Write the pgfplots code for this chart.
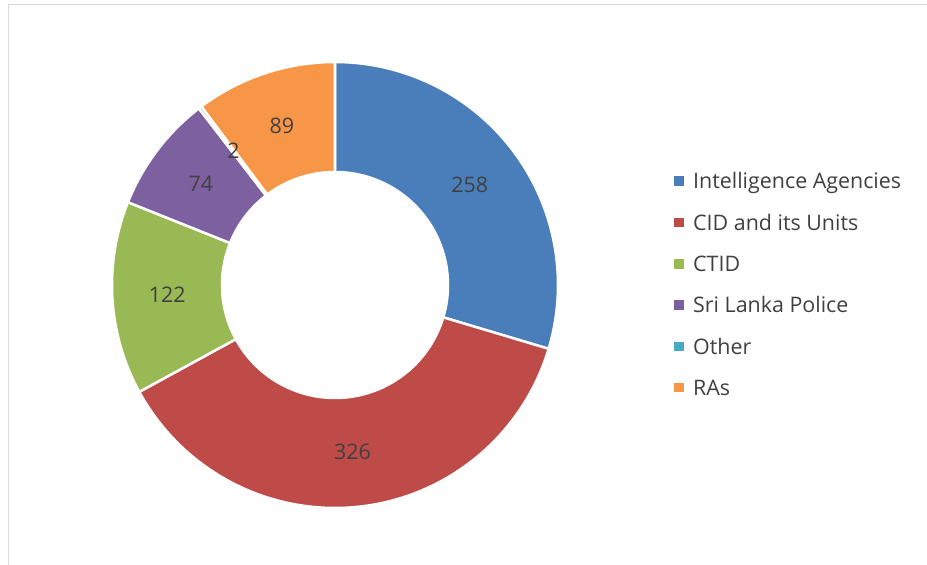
\documentclass[border=0pt]{standalone}
\usepackage{pgfplots}
\pgfplotsset{compat=1.18}
\usepackage{fontspec}
\setmainfont{Open Sans}
\definecolor{cA}{HTML}{4A7EBB}
\definecolor{cB}{HTML}{BE4B48}
\definecolor{cC}{HTML}{98B954}
\definecolor{cD}{HTML}{7D60A0}
\definecolor{cE}{HTML}{46AAC5}
\definecolor{cF}{HTML}{F79646}
\definecolor{txt}{HTML}{404040}
\definecolor{frame}{HTML}{D9D9D9}
% values (clockwise from 12 o'clock)
\def\vA{258}\def\vB{326}\def\vC{122}\def\vD{74}\def\vE{2}\def\vF{89}
\def\cx{335}\def\cy{280}\def\Ro{223}\def\Ri{113}
\pgfmathsetmacro\tot{\vA+\vB+\vC+\vD+\vE+\vF}
\pgfmathsetmacro\aA{90}
\pgfmathsetmacro\aB{\aA-\vA/\tot*360}
\pgfmathsetmacro\aC{\aB-\vB/\tot*360}
\pgfmathsetmacro\aD{\aC-\vC/\tot*360}
\pgfmathsetmacro\aE{\aD-\vD/\tot*360}
\pgfmathsetmacro\aF{\aE-\vE/\tot*360}
\pgfmathsetmacro\aG{\aF-\vF/\tot*360}
\pgfmathsetmacro\rmid{(\Ro+\Ri)/2}
\newcommand\lab[3]{% start, end, text
  \node[text=txt, font=\fontsize{21.5}{25}\selectfont] at (axis cs:{\cx+\rmid*cos((#1+#2)/2)},{\cy+\rmid*sin((#1+#2)/2)}) {#3};}
\newcommand\slice[3]{%
  \addplot[fill=#3, draw=white, line width=2.5bp, domain=0:4, samples=401, variable=\t]
    ({\cx+ringrad(\t)*cos(ringang(\t,#1,#2))},{\cy+ringrad(\t)*sin(ringang(\t,#1,#2))});}
\begin{document}
\begin{tikzpicture}
\begin{axis}[
  x=1bp, y=1bp, xmin=0, xmax=927, ymin=0, ymax=565,
  scale only axis, hide axis, clip=false,
  declare function={
    ringrad(\t)=ifthenelse(\t<=1,\Ro,ifthenelse(\t<=2,\Ro-(\Ro-\Ri)*(\t-1),ifthenelse(\t<=3,\Ri,\Ri+(\Ro-\Ri)*(\t-3))));
    ringang(\t,\p,\q)=ifthenelse(\t<=1,\p+(\q-\p)*\t,ifthenelse(\t<=2,\q,ifthenelse(\t<=3,\q-(\q-\p)*(\t-2),\p)));
  },
  legend image code/.code={\fill[#1,draw=none] (0bp,-4.75bp) rectangle (9.5bp,4.75bp);},
  legend style={at={(axis cs:674,391.7)}, anchor=north west, draw=none, fill=none,
    inner sep=0pt, row sep=25.9bp, column sep=9.5bp,
    font=\fontsize{21.5}{25}\selectfont, text=txt,
    nodes={inner sep=0pt, text height=15.4bp, text depth=0pt}},
  legend cell align=left,
]
\draw[frame, line width=1.5bp] (axis cs:8.5,0) -- (axis cs:8.5,560.5) -- (axis cs:927,560.5);
\slice{\aA}{\aB}{cA}\addlegendentry{Intelligence Agencies}
\slice{\aB}{\aC}{cB}\addlegendentry{CID and its Units}
\slice{\aC}{\aD}{cC}\addlegendentry{CTID}
\slice{\aD}{\aE}{cD}\addlegendentry{Sri Lanka Police}
\slice{\aE}{\aF}{cE}\addlegendentry{Other}
\slice{\aF}{\aG}{cF}\addlegendentry{RAs}
\lab{\aA}{\aB}{258}
\lab{\aB}{\aC}{326}
\lab{\aC}{\aD}{122}
\lab{\aD}{\aE}{74}
\lab{\aE}{\aF}{2}
\lab{\aF}{\aG}{89}
\end{axis}
\pgfresetboundingbox
\useasboundingbox (0,0) rectangle (927bp,565bp);
\end{tikzpicture}
\end{document}
